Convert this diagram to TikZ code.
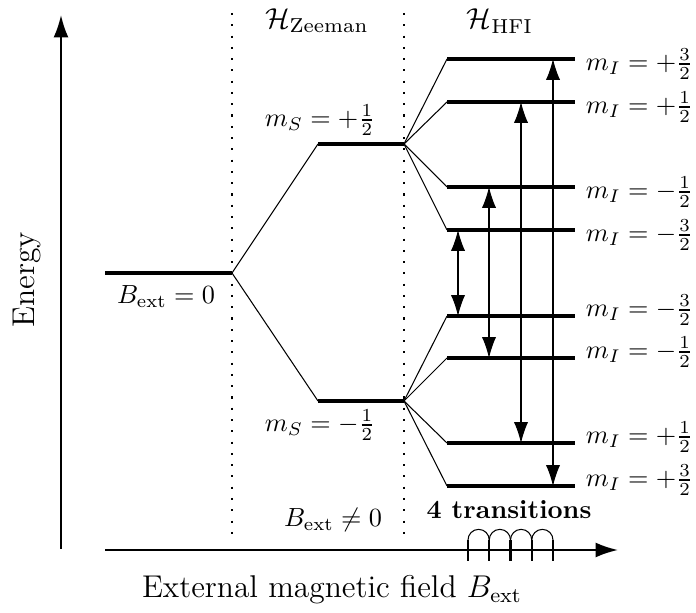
\documentclass[tikz,border=0pt]{standalone}
\usepackage{amsmath,amssymb}
\usetikzlibrary{arrows.meta,calc}

\tikzset{
  level/.style={line width=1.2pt},
  axis/.style={thick, -{Latex[length=3mm,width=2mm]}},
  trans/.style={{Latex[length=2.8mm,width=1.9mm]}-{Latex[length=2.8mm,width=1.9mm]}},
  sep/.style={line width=0.8pt, dash pattern=on 0.8pt off 3.5pt},
}

\begin{document}
\begin{tikzpicture}[x=0.67cm,y=0.67cm]
  \useasboundingbox (0,0) rectangle (13.92,12.26);

  % Axes
  \coordinate (E0) at (1.22,1.28);
  \coordinate (E1) at (1.22,11.96);
  \coordinate (B0) at (2.10,1.26);
  \coordinate (B1) at (12.36,1.26);
  \draw[axis] (E0) -- (E1);
  \draw[axis] (B0) -- (B1);
  \node[rotate=90, font=\large] (elabel) at (0.54,6.66) {Energy};
  \node[font=\large] (blabel) at (6.64,0.46) {External magnetic field $B_\text{ext}$};

  % Regions
  \foreach \x/\n in {4.64/z, 8.08/h} {
    \coordinate (\n top) at (\x,12.0);
    \coordinate (\n bot) at (\x,1.42);
    \draw[sep] (\n top) -- (\n bot);
  }
  \node[scale=1.1, inner sep=1pt] (hz) at (6.34,11.84) {$\mathcal{H}_\text{Zeeman}$};
  \node[scale=1.1, inner sep=1pt] (hh) at (10.0,11.84) {$\mathcal{H}_\text{HFI}$};

  % Zero field
  \draw[level] (2.10,6.80) coordinate (zl) -- (4.64,6.80) coordinate (zr);
  \node (b0) at (3.32,6.32) {$B_\text{ext} = 0$};

  % Electron Zeeman splitting
  \draw[level] (6.36,9.38) coordinate (upl) -- (8.08,9.38) coordinate (upr);
  \draw[level] (6.36,4.24) coordinate (dnl) -- (8.08,4.24) coordinate (dnr);
  \draw (zr) -- (upl) (zr) -- (dnl);
  \node (msup) at (6.40,9.86) {$m_S = +\frac{1}{2}$};
  \node (msdn) at (6.40,3.76) {$m_S = -\frac{1}{2}$};

  % Hyperfine splitting
  \foreach \y/\lab/\n/\src/\dy in {11.08/+\frac{3}{2}/1/upr/-0.1,
      10.22/+\frac{1}{2}/2/upr/-0.1, 8.52/-\frac{1}{2}/3/upr/-0.1,
      7.66/-\frac{3}{2}/4/upr/-0.1, 5.94/-\frac{3}{2}/5/dnr/0.12,
      5.10/-\frac{1}{2}/6/dnr/0.12, 3.40/+\frac{1}{2}/7/dnr/0.12,
      2.54/+\frac{3}{2}/8/dnr/0.12} {
    \draw[level] (8.94,\y) coordinate (l\n) -- (11.50,\y) coordinate (r\n);
    \draw (\src) -- (l\n);
    \node[anchor=west] (m\n) at ($(r\n)+(0.03,\dy)$) {$m_I = \lab$};
  }

  % Allowed transitions
  \foreach \x/\a/\b in {9.16/4/5, 9.78/3/6, 10.42/2/7, 11.06/1/8} {
    \draw[trans] (\x,0 |- l\a) -- (\x,0 |- l\b);
  }

  % Spectrum sketch
  \foreach \i in {0,...,4} {
    \coordinate (t\i) at (9.36+\i*0.425,1.46);
    \draw[thick] (t\i) -- ++(0,-0.42);
  }
  \foreach \i in {0,...,3}
    \draw (t\i) arc[start angle=180, end angle=0, radius=0.2125];
  \node (bne) at (6.66,1.86) {$B_\text{ext} \neq 0$};
  \node[font=\bfseries] (ntr) at (10.18,2.06) {4 transitions};
\end{tikzpicture}
\end{document}
